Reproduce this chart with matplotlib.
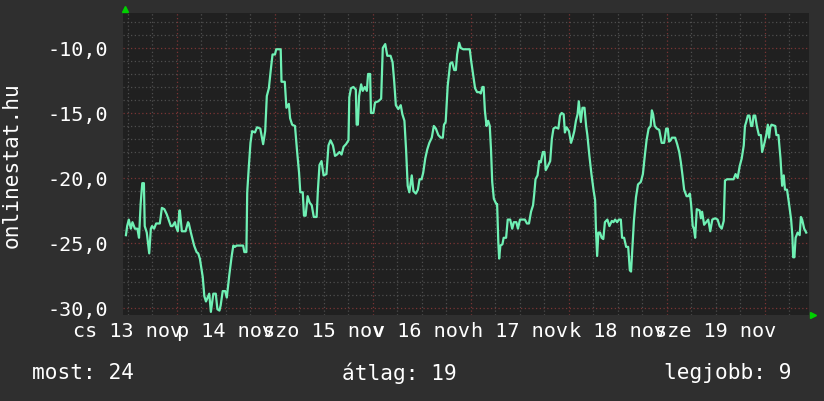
import matplotlib
matplotlib.use("Agg")
import matplotlib.pyplot as plt

# hours since 13 nov 00:00 and values
hours = [
    11.5, 11.8, 12.2, 12.7, 13.1, 13.7, 14.3, 14.7, 15.1, 15.5, 15.9, 16.1, 16.6,
    17.2, 17.6, 17.9, 18.4, 18.9, 19.8, 20.3, 20.9, 21.5, 22.5, 22.9, 23.5, 23.7,
    24.2, 24.6, 24.7, 25.2, 26.1, 26.7, 26.9, 27.4, 28.2, 28.8, 29.2, 29.6, 30.3,
    30.7, 31.1, 31.9, 32.3, 32.9, 33.5, 33.9, 34.4, 34.7, 35.2, 35.8, 36.2, 36.8,
    37.4, 37.8, 38.2, 38.6, 40.2, 40.5, 41.0, 41.2, 41.6, 42.0, 42.4, 43.1, 43.6,
    44.4, 45.1, 45.6, 46.0, 46.5, 47.0, 47.4, 48.0, 48.3, 49.4, 49.6, 50.4, 50.8,
    51.4, 51.7, 52.2, 52.9, 53.4, 53.9, 54.2, 54.8, 55.1, 55.5, 56.0, 56.5, 57.0,
    57.5, 58.2, 58.5, 58.9, 59.4, 59.9, 60.6, 61.1, 61.6, 62.2, 62.7, 63.2, 63.8,
    64.3, 64.8, 65.4, 66.0, 66.2, 66.6, 67.2, 67.8, 68.0, 68.3, 68.6, 69.1, 69.5,
    70.0, 70.5, 70.8, 71.3, 71.5, 72.1, 72.5, 73.3, 74.0, 74.4, 75.0, 75.5, 76.3,
    76.8, 77.2, 77.6, 78.2, 78.8, 79.2, 79.7, 80.1, 80.5, 80.9, 81.5, 81.9, 82.5,
    83.0, 83.4, 83.9, 84.3, 84.8, 85.3, 85.8, 86.4, 86.9, 87.4, 88.0, 88.6, 89.1,
    89.4, 89.8, 90.3, 90.9, 91.4, 91.9, 92.3, 92.6, 93.1, 93.5, 94.1, 95.7, 96.0,
    96.5, 97.0, 97.5, 98.1, 98.4, 98.8, 99.1, 99.4, 99.8, 100.2, 100.6, 100.9,
    101.2, 101.6, 102.2, 102.4, 102.7, 102.9, 103.2, 103.7, 104.0, 104.6, 105.0,
    105.6, 106.1, 106.5, 107.1, 107.5, 108.0, 109.2, 109.7, 110.2, 110.7, 111.2,
    111.5, 111.8, 112.3, 112.7, 113.1, 113.6, 114.0, 114.3, 114.8, 115.4, 115.8,
    116.2, 116.7, 117.4, 117.8, 118.2, 118.7, 119.0, 119.4, 120.0, 120.5, 120.9,
    121.3, 121.7, 122.1, 122.4, 122.9, 123.3, 123.8, 124.2, 124.5, 125.0, 125.5,
    126.0, 126.4, 126.6, 126.9, 127.2, 127.6, 128.0, 128.4, 128.8, 129.4, 129.9,
    130.5, 130.9, 131.3, 131.8, 132.2, 132.7, 133.0, 133.5, 134.0, 134.5, 134.9,
    135.2, 135.5, 135.9, 136.4, 136.9, 137.6, 138.1, 138.6, 139.0, 139.5, 140.0,
    140.3, 140.6, 141.0, 141.5, 142.1, 142.7, 143.3, 143.8, 144.2, 144.5, 144.9,
    145.2, 146.0, 146.5, 147.0, 147.4, 147.8, 148.2, 148.8, 149.2, 149.6, 149.9,
    150.3, 150.6, 150.9, 151.3, 152.0, 152.3, 152.6, 153.1, 153.6, 154.1, 154.6,
    155.1, 155.8, 156.4, 156.9, 157.4, 157.9, 158.2, 158.7, 160.3, 160.8, 161.3,
    161.8, 162.3, 162.8, 163.1, 163.4, 163.8, 164.2, 164.6, 164.9, 165.2, 165.6,
    166.0, 166.5, 167.0, 167.3, 167.8, 168.3, 168.7, 169.0, 169.3, 169.6, 170.5,
    170.8, 171.3, 171.8, 172.2, 172.6, 172.9, 173.4, 173.9, 174.4, 174.7, 174.9,
    175.2, 175.5, 176.0, 176.5, 176.8, 177.1, 177.6, 178.1,
]
values = [
    -24.4, -23.7, -23.2, -23.9, -23.4, -23.9, -23.9, -24.6, -22.0, -20.4, -20.4,
    -23.7, -24.2, -25.8, -23.9, -23.7, -23.9, -23.5, -23.5, -22.3, -22.4, -22.8,
    -23.7, -23.7, -23.4, -23.7, -24.1, -22.5, -22.5, -24.1, -24.1, -23.4, -23.5,
    -24.2, -25.2, -25.7, -25.8, -26.2, -27.6, -29.1, -29.5, -28.9, -30.3, -28.9,
    -28.9, -30.1, -30.2, -29.8, -28.7, -28.7, -29.2, -27.5, -26.0, -25.2, -25.3,
    -25.2, -25.2, -25.7, -25.7, -21.1, -19.1, -17.3, -16.4, -16.5, -16.1, -16.2,
    -17.4, -16.4, -13.7, -13.1, -11.6, -10.5, -10.5, -10.1, -10.1, -12.6, -12.6,
    -14.6, -14.3, -15.4, -15.9, -16.0, -17.9, -19.6, -21.1, -21.1, -22.9, -22.9,
    -21.4, -21.9, -22.1, -23.0, -23.0, -21.0, -19.0, -18.7, -19.8, -19.7, -17.5,
    -17.1, -17.5, -18.3, -18.2, -18.0, -18.2, -17.6, -17.4, -17.1, -13.8, -13.1,
    -13.0, -13.2, -15.9, -15.9, -13.7, -12.8, -13.3, -13.0, -13.3, -12.0, -12.0,
    -15.0, -15.0, -14.2, -14.1, -13.9, -10.0, -9.7, -10.6, -10.6, -11.1, -12.6,
    -14.4, -14.7, -14.4, -15.1, -15.6, -17.8, -20.6, -21.1, -19.8, -21.0, -21.2,
    -20.9, -20.1, -20.1, -19.6, -18.5, -17.8, -17.3, -16.9, -16.0, -16.2, -16.7,
    -16.9, -16.9, -15.9, -15.7, -12.9, -11.2, -11.1, -11.7, -11.7, -10.5, -9.6,
    -10.0, -10.1, -10.1, -10.9, -12.0, -13.1, -13.4, -13.4, -13.5, -13.0, -13.0,
    -14.8, -16.0, -15.6, -16.0, -17.8, -20.3, -21.6, -22.0, -22.0, -25.0, -26.2,
    -25.2, -25.1, -24.6, -24.6, -23.2, -23.2, -23.9, -23.4, -23.4, -23.9, -23.2,
    -23.2, -23.5, -23.5, -22.6, -22.1, -21.2, -20.1, -19.8, -18.7, -18.8, -18.0,
    -18.0, -19.4, -19.1, -18.7, -17.0, -16.2, -16.1, -16.2, -15.2, -15.0, -15.1,
    -16.5, -16.1, -16.4, -17.3, -16.9, -16.4, -15.6, -15.1, -14.1, -15.7, -14.6,
    -14.6, -16.0, -16.7, -18.3, -19.7, -20.9, -21.7, -23.9, -26.0, -24.2, -24.2,
    -24.6, -24.7, -23.4, -23.2, -23.7, -23.3, -23.4, -23.2, -23.4, -23.2, -23.2,
    -24.6, -24.6, -25.3, -25.3, -27.1, -27.2, -25.5, -23.3, -21.5, -20.5, -20.3,
    -19.7, -18.2, -17.1, -16.2, -16.0, -14.8, -15.1, -16.0, -16.2, -16.3, -17.3,
    -17.3, -16.2, -16.2, -17.2, -17.1, -16.9, -16.9, -17.4, -18.0, -18.8, -19.8,
    -20.9, -21.4, -21.4, -21.2, -22.0, -23.7, -23.9, -24.6, -22.4, -22.5, -23.1,
    -22.6, -23.6, -23.4, -23.2, -24.1, -23.2, -23.1, -23.2, -23.7, -23.9, -23.3,
    -20.2, -20.1, -20.1, -19.7, -20.0, -19.1, -18.5, -17.5, -16.0, -15.7, -15.2,
    -15.2, -16.0, -16.0, -15.2, -15.2, -16.0, -16.7, -16.7, -18.0, -17.4, -16.7,
    -15.9, -16.9, -16.1, -15.9, -16.0, -16.7, -16.7, -18.5, -20.6, -19.8, -20.9,
    -20.9, -22.0, -23.2, -24.4, -26.1, -26.1, -24.6, -24.2, -24.4, -23.0, -23.2,
    -23.9, -24.2,
]
day_labels = ["cs 13 nov", "p 14 nov", "szo 15 nov", "v 16 nov",
              "h 17 nov", "k 18 nov", "sze 19 nov"]
y_ticks = [-30, -25, -20, -15, -10]
legend = [("most: 24", 0.039, "left"), ("átlag: 19", 0.4147, "left"),
          ("legjobb: 9", 0.961, "right")]

plt.rcParams['font.family'] = 'DejaVu Sans Mono'

fig = plt.figure(figsize=(8.24, 4.02), dpi=100, facecolor='#2f2f2f')
ax = fig.add_axes([123 / 824, 86 / 402, 686 / 824, 302 / 402])
ax.set_facecolor('#202020')
for s in ax.spines.values():
    s.set_visible(False)

x0, x1 = 10.78, 178.78
ax.set_xlim(x0, x1)
ax.set_ylim(-30.54, -7.31)

# grid: minor gray, major red
for v in range(-30, -7):
    c = '#7a3434' if v % 5 == 0 else '#4e4e4e'
    ax.axhline(v, color=c, lw=0.9, ls=(0, (1, 2)), zorder=1)
for h in range(12, 180, 6):
    c = '#7a3434' if h % 24 == 0 else '#4e4e4e'
    ax.axvline(h, color=c, lw=0.9, ls=(0, (1, 2)), zorder=1)

ax.plot(hours, values, color='#6ff0b4', lw=1.6, zorder=3)

ax.set_yticks(y_ticks)
ax.set_yticklabels([f"{v:.1f}".replace('.', ',') for v in y_ticks])
ax.set_xticks([12 + 24 * i for i in range(len(day_labels))])
ax.set_xticklabels(day_labels)
ax.tick_params(axis='y', length=0, pad=11, labelsize=14.5, colors='white')
ax.tick_params(axis='x', length=0, pad=4, labelsize=14.5, colors='white')

# green arrow heads at the axis ends
ax.plot([0.003], [1.013], marker='^', color='#00d000', ms=5,
        transform=ax.transAxes, clip_on=False)
ax.plot([1.006], [0.0], marker='>', color='#00d000', ms=5,
        transform=ax.transAxes, clip_on=False)

fig.text(0.0146, 0.59, "onlinestat.hu", rotation=90, ha='center',
         va='center', color='white', fontsize=15.2)
for text, x, ha in legend:
    fig.text(x, 0.072, text, ha=ha, va='center', color='white', fontsize=15.2)

fig.savefig('out.png', dpi=100, facecolor=fig.get_facecolor())
